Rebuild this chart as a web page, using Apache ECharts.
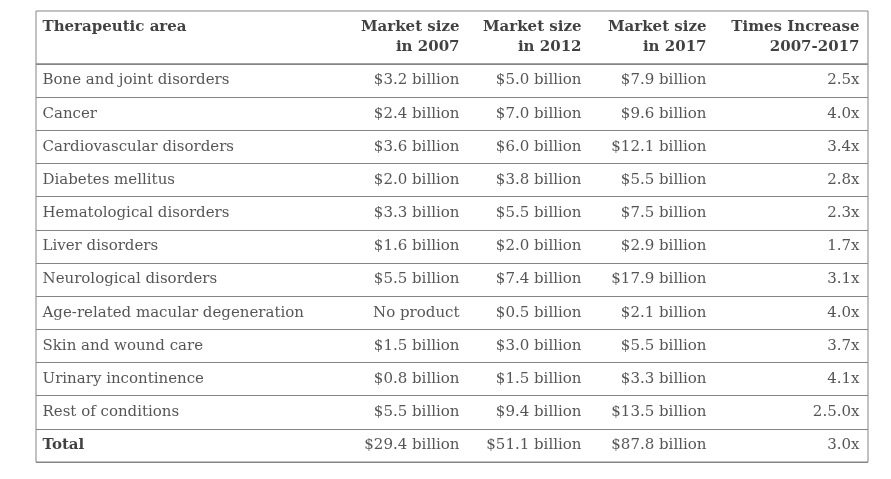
<!DOCTYPE html>
<html><head><meta charset="utf-8">
<script src="https://cdn.jsdelivr.net/npm/echarts@6/dist/echarts.min.js"></script>
<style>html,body{margin:0;padding:0;background:#fff}#c{width:891px;height:479px}</style>
</head><body><div id="c"></div>
<script>
const headers = ['Therapeutic area', 'Market size\nin 2007', 'Market size\nin 2012', 'Market size\nin 2017', 'Times Increase\n2007-2017'];
const areas = ['Bone and joint disorders', 'Cancer', 'Cardiovascular disorders', 'Diabetes mellitus', 'Hematological disorders', 'Liver disorders', 'Neurological disorders', 'Age-related macular degeneration', 'Skin and wound care', 'Urinary incontinence', 'Rest of conditions', 'Total'];
const size2007 = ['$3.2 billion', '$2.4 billion', '$3.6 billion', '$2.0 billion', '$3.3 billion', '$1.6 billion', '$5.5 billion', 'No product', '$1.5 billion', '$0.8 billion', '$5.5 billion', '$29.4 billion'];
const size2012 = ['$5.0 billion', '$7.0 billion', '$6.0 billion', '$3.8 billion', '$5.5 billion', '$2.0 billion', '$7.4 billion', '$0.5 billion', '$3.0 billion', '$1.5 billion', '$9.4 billion', '$51.1 billion'];
const size2017 = ['$7.9 billion', '$9.6 billion', '$12.1 billion', '$5.5 billion', '$7.5 billion', '$2.9 billion', '$17.9 billion', '$2.1 billion', '$5.5 billion', '$3.3 billion', '$13.5 billion', '$87.8 billion'];
const timesIncrease = ['2.5x', '4.0x', '3.4x', '2.8x', '2.3x', '1.7x', '3.1x', '4.0x', '3.7x', '4.1x', '2.5.0x', '3.0x'];

const columns = [areas, size2007, size2012, size2017, timesIncrease];
const FONT = '"DejaVu Serif", Georgia, serif';
const FS = 15;
const lineColor = '#858585';
const textColor = '#2a2a2a';
// text anchors (left edge for first column, right edge for others)
const anchors = [42, 460, 582, 707, 860];
const tLeft = 36, tRight = 868, tTop = 11, hBottom = 64, tBottom = 462;

const grids = [], xAxes = [], yAxes = [], series = [];
grids.push({left: tLeft, width: tRight - tLeft, top: tTop, height: hBottom - tTop, show: true, borderColor: lineColor, borderWidth: 1, backgroundColor: 'transparent'});
grids.push({left: tLeft, width: tRight - tLeft, top: hBottom, height: tBottom - hBottom, show: true, borderColor: lineColor, borderWidth: 1, backgroundColor: 'transparent'});
xAxes.push({gridIndex: 0, type: 'value', show: false, min: 0, max: 1});
yAxes.push({gridIndex: 0, type: 'category', show: false, data: ['h']});
xAxes.push({gridIndex: 1, type: 'value', show: false, min: 0, max: 1});
yAxes.push({gridIndex: 1, type: 'category', data: areas, inverse: true,
  axisLine: {show: false}, axisTick: {show: false}, axisLabel: {show: false},
  splitLine: {show: true, lineStyle: {color: lineColor, width: 1}}});

columns.forEach((col, ci) => {
  const isLeft = ci === 0;
  const gw = 200;
  const gl = isLeft ? anchors[ci] : anchors[ci] - gw;
  const hg = grids.length;
  grids.push({left: gl, width: gw, top: tTop, height: hBottom - tTop});
  xAxes.push({gridIndex: hg, type: 'value', show: false, min: 0, max: 1});
  yAxes.push({gridIndex: hg, type: 'category', show: false, data: ['h']});
  series.push({
    type: 'scatter', xAxisIndex: hg, yAxisIndex: hg, silent: true, symbolSize: 1,
    itemStyle: {color: 'rgba(0,0,0,0)'},
    data: [[isLeft ? 0 : 1, 0]],
    label: {show: true, position: isLeft ? 'right' : 'left', distance: 0,
      align: isLeft ? 'left' : 'right', verticalAlign: 'middle',
      formatter: () => headers[ci].indexOf('\n') >= 0 ? headers[ci] : headers[ci] + '\n ',
      fontFamily: FONT, fontSize: FS, fontWeight: 'bold', color: '#111', lineHeight: 20}
  });
  const bg = grids.length;
  grids.push({left: gl, width: gw, top: hBottom, height: tBottom - hBottom});
  xAxes.push({gridIndex: bg, type: 'value', show: false, min: 0, max: 1});
  yAxes.push({gridIndex: bg, type: 'category', show: false, data: areas, inverse: true});
  series.push({
    type: 'scatter', xAxisIndex: bg, yAxisIndex: bg, silent: true, symbolSize: 1,
    itemStyle: {color: 'rgba(0,0,0,0)'},
    data: col.map((v, ri) => ({value: [isLeft ? 0 : 1, ri], text: v, bold: isLeft && areas[ri] === 'Total'})),
    label: {show: true, position: isLeft ? 'right' : 'left', distance: 0,
      align: isLeft ? 'left' : 'right', verticalAlign: 'middle',
      formatter: p => p.data.bold ? '{b|' + p.data.text + '}' : p.data.text,
      fontFamily: FONT, fontSize: FS, color: textColor,
      rich: {b: {fontFamily: FONT, fontSize: FS, fontWeight: 'bold', color: '#111'}}}
  });
});

const chart = echarts.init(document.getElementById('c'), null, {renderer: 'canvas'});
chart.setOption({
  animation: false,
  backgroundColor: '#fff',
  grid: grids, xAxis: xAxes, yAxis: yAxes, series: series
});
</script></body></html>
